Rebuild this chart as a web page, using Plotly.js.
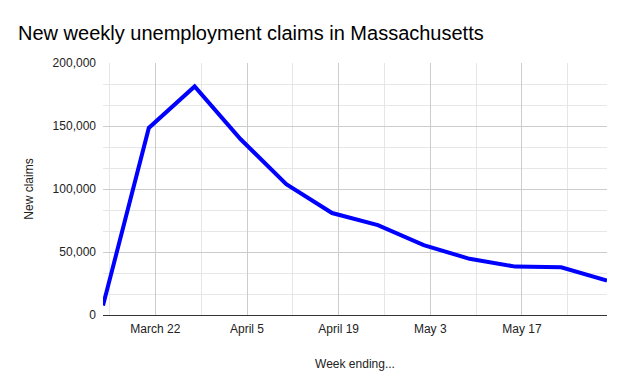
<!DOCTYPE html>
<html><head><meta charset="utf-8">
<script src="https://cdn.plot.ly/plotly-3.0.1.min.js"></script>
<style>html,body{margin:0;padding:0;background:#fff}#chart{width:627px;height:387px}</style>
</head><body><div id="chart"></div>
<script>
var weekEnding = ["2020-03-14","2020-03-21","2020-03-28","2020-04-04","2020-04-11","2020-04-18","2020-04-25","2020-05-02","2020-05-09","2020-05-16","2020-05-23","2020-05-30"];
var newClaims = [7449, 148452, 181423, 139647, 103846, 80931, 71375, 55476, 44570, 38413, 37900, 27300];

var trace = {
  x: weekEnding, y: newClaims, type: 'scatter', mode: 'lines',
  line: {color: '#0000ff', width: 4}, hoverinfo: 'x+y'
};
var font = 'Liberation Sans, Arial, sans-serif';
var layout = {
  width: 627, height: 387,
  margin: {l: 103, r: 20, t: 63, b: 72},
  paper_bgcolor: '#fff', plot_bgcolor: '#fff',
  font: {family: font, size: 12, color: '#222'},
  title: {text: 'New weekly unemployment claims in Massachusetts', x: 0, xref: 'paper', xanchor: 'left', y: 0.915, yref:'container', yanchor:'middle', pad: {l: -85},
    font: {family: font, size: 20, color: '#000'}},
  showlegend: false,
  xaxis: {
    type: 'date', range: ['2020-03-14', '2020-05-30'],
    tick0: '2020-03-22', dtick: 14*86400000, tickformat: '%B %-d',
    showgrid: true, gridcolor: '#cccccc', gridwidth: 1,
    minor: {tick0: '2020-03-15', dtick: 7*86400000, showgrid: true, gridcolor: '#e6e6e6', gridwidth: 1},
    showline: true, linecolor: '#333333', linewidth: 1, zeroline: false,
    ticks: '', ticklabelstandoff: 3, tickfont: {family: font, size: 12, color: '#222'},
    title: {text: 'Week ending...', standoff: 24, font: {family: font, size: 12, color: '#222'}},
    fixedrange: true
  },
  yaxis: {
    range: [0, 200000], tick0: 0, dtick: 50000, tickformat: ',d',
    showgrid: true, gridcolor: '#cccccc', gridwidth: 1,
    minor: {tick0: 0, dtick: 50000/3, showgrid: true, gridcolor: '#e6e6e6', gridwidth: 1},
    zeroline: false, showline: false, ticks: '', ticklabelstandoff: 6,
    tickfont: {family: font, size: 12, color: '#222'},
    title: {text: 'New claims', standoff: 16, font: {family: font, size: 12, color: '#222'}},
    fixedrange: true
  }
};
Plotly.newPlot('chart', [trace], layout, {displayModeBar: false, staticPlot: true});
</script></body></html>
